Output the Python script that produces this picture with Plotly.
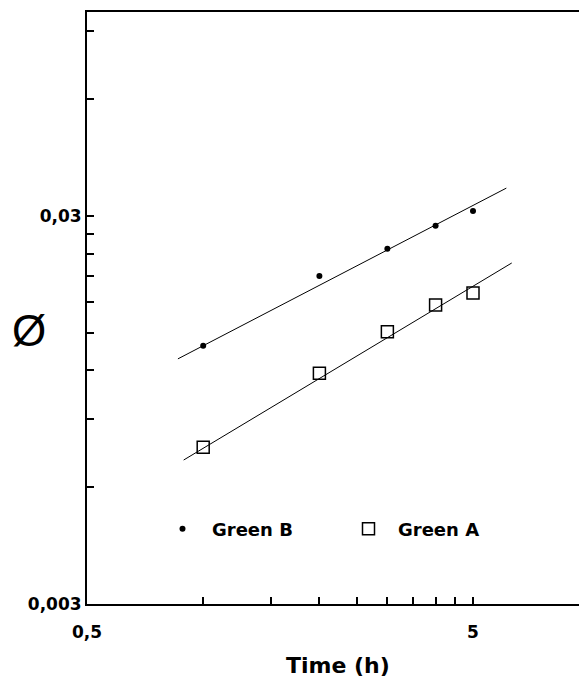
import plotly.graph_objects as go
import math

# ---- data ----
time_h = [1, 2, 3, 4, 5]
green_b = [0.0139, 0.0210, 0.0247, 0.0283, 0.0309]
green_a = [0.0076, 0.0118, 0.0151, 0.0177, 0.0190]
fit_b_x = [0.86, 6.1]
fit_b_y = [0.01285, 0.0354]
fit_a_x = [0.89, 6.3]
fit_a_y = [0.00705, 0.0227]

x_tickvals = [0.5, 1, 1.5, 2, 2.5, 3, 3.5, 4, 4.5, 5]
x_ticktext = ["0,5", "", "", "", "", "", "", "", "", "5"]
y_tickvals = [0.003, 0.006, 0.009, 0.012, 0.015, 0.018, 0.021, 0.024, 0.027, 0.03, 0.06, 0.09]
y_ticktext = ["0,003", "", "", "", "", "", "", "", "", "0,03", "", ""]

FONT = "DejaVu Sans, sans-serif"
L, T, B, W, H = 87, 12, 74, 579, 678
PW = W - L
PH = H - T - B


def px_x(p):
    return (p - L) / PW


def px_y(p):
    return (H - B - p) / PH


fig = go.Figure()
fig.add_trace(go.Scatter(x=fit_b_x, y=fit_b_y, mode="lines",
                         line=dict(color="black", width=1), showlegend=False, hoverinfo="skip"))
fig.add_trace(go.Scatter(x=fit_a_x, y=fit_a_y, mode="lines",
                         line=dict(color="black", width=1), showlegend=False, hoverinfo="skip"))
fig.add_trace(go.Scatter(x=time_h, y=green_b, mode="markers", name="Green B",
                         marker=dict(symbol="circle", size=6, color="black")))
fig.add_trace(go.Scatter(x=time_h, y=green_a, mode="markers", name="Green A",
                         marker=dict(symbol="square-open", size=12, color="black",
                                     line=dict(width=1.5, color="black"))))

fig.update_layout(
    width=W, height=H,
    margin=dict(l=L, r=0, t=T, b=B),
    paper_bgcolor="white", plot_bgcolor="white",
    font=dict(family=FONT, color="black"),
    legend=dict(orientation="h", x=px_x(153), y=px_y(529),
                xanchor="left", yanchor="middle",
                itemwidth=49,
                entrywidth=122, entrywidthmode="pixels",
                font=dict(family=FONT, size=18, weight="bold"),
                bgcolor="rgba(0,0,0,0)"),
    annotations=[
        dict(text="Ø", x=px_x(29), y=px_y(330), xref="paper", yref="paper",
             xanchor="center", yanchor="middle", showarrow=False,
             font=dict(family="Liberation Sans", size=44)),
        dict(text="Time (h)", x=px_x(338), y=px_y(665), xref="paper", yref="paper",
             xanchor="center", yanchor="middle", showarrow=False,
             font=dict(family=FONT, size=22, weight="bold")),
    ],
)

fig.update_xaxes(type="log", range=[math.log10(0.5), math.log10(0.5) + PW / 386],
                 automargin=False,
                 showline=True, linewidth=2, linecolor="black", mirror=True,
                 showgrid=False, zeroline=False,
                 ticks="inside", ticklen=7, tickwidth=1.5, tickcolor="black",
                 ticklabelstandoff=12,
                 tickvals=x_tickvals, ticktext=x_ticktext,
                 tickfont=dict(family=FONT, size=17, weight="bold"))
fig.update_yaxes(type="log", range=[math.log10(0.003), math.log10(0.003) + PH / 388],
                 automargin=False,
                 showline=True, linewidth=2, linecolor="black", mirror=False,
                 showgrid=False, zeroline=False,
                 ticks="inside", ticklen=7, tickwidth=1.5, tickcolor="black",
                 tickvals=y_tickvals, ticktext=y_ticktext,
                 tickfont=dict(family=FONT, size=17, weight="bold"))

fig.write_html("out.html", config={"displayModeBar": False},
               post_script="document.body.style.margin='0';document.body.style.padding='0';")
